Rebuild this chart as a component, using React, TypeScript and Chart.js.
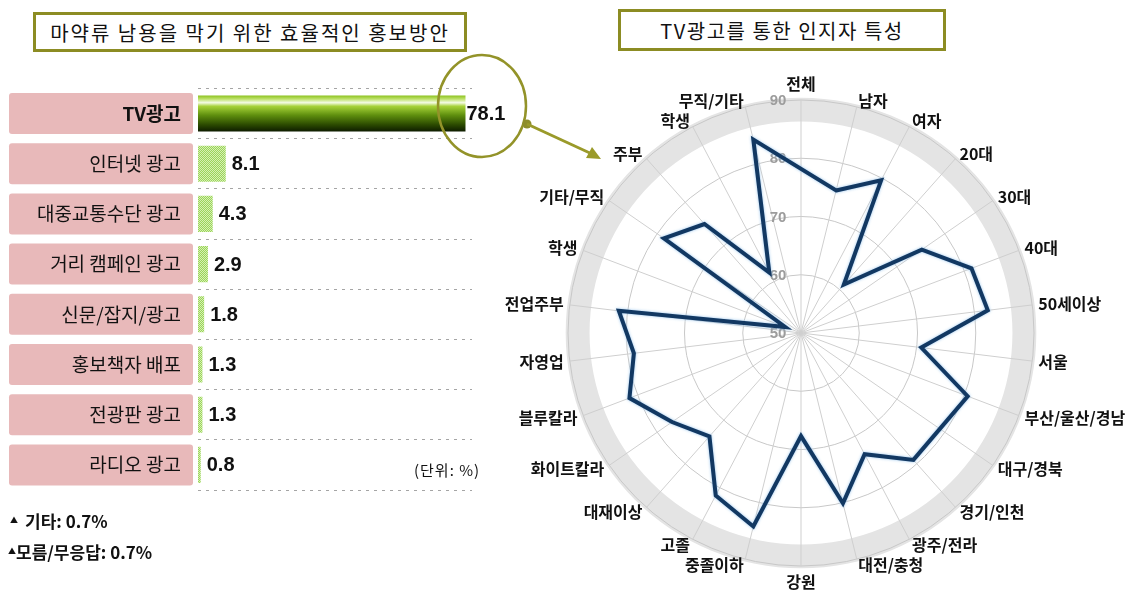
import React, { useEffect, useRef } from "react";
import { Chart, registerables } from "chart.js";

Chart.register(...registerables);

// ---------- data ----------
const adCategories = [
  "TV광고",
  "인터넷 광고",
  "대중교통수단 광고",
  "거리 캠페인 광고",
  "신문/잡지/광고",
  "홍보책자 배포",
  "전광판 광고",
  "라디오 광고",
];
const adValues = [78.1, 8.1, 4.3, 2.9, 1.8, 1.3, 1.3, 0.8];
const adAxisMax = 80;

const radarLabels = [
  "전체",
  "남자",
  "여자",
  "20대",
  "30대",
  "40대",
  "50세이상",
  "서울",
  "부산/울산/경남",
  "대구/경북",
  "경기/인천",
  "광주/전라",
  "대전/충청",
  "강원",
  "중졸이하",
  "고졸",
  "대재이상",
  "화이트칼라",
  "블루칼라",
  "자영업",
  "전업주부",
  "학생",
  "기타/무직",
  "주부",
  "학생",
  "무직/기타",
];
const radarValues: (number | null)[] = [
  null, 75.2, 79.6, 61.1, 75.2, 81.3, 82.3, 70.8, 80.6, null, 79.1, 73.5, 80.1,
  67.7, 84.2, 81.5, 73.7, 76.9, 81.5, 78.9, 81.5, 52.9, 78.6, 75.0, 61.7, 84.2,
];
const radarTicks = [50, 60, 70, 80, 90];
const radarMin = 50;
const radarMax = 90;
const bandRange = [86.3, 90.4];

const KR = '"Noto Sans CJK KR", "Noto Sans", sans-serif';
const NUM = '"Liberation Sans", Arial, sans-serif';

// ---------- bar chart ----------
function tvGradient(chart: any) {
  const ys = chart.scales && chart.scales.y;
  if (!ys) return "#5c8c0c";
  const y = ys.getPixelForValue(0);
  if (!Number.isFinite(y)) return "#5c8c0c";
  const half = 18;
  const g = chart.ctx.createLinearGradient(0, y - half, 0, y + half);
  g.addColorStop(0, "#8cc21e");
  g.addColorStop(0.1, "#bfe26c");
  g.addColorStop(0.2, "#f4fbe4");
  g.addColorStop(0.3, "#a6d238");
  g.addColorStop(0.55, "#5e8e0e");
  g.addColorStop(0.82, "#2a4800");
  g.addColorStop(1, "#0e1c00");
  return g;
}

function AdBarChart() {
  const ref = useRef<HTMLCanvasElement>(null);
  useEffect(() => {
    const canvas = ref.current!;
    const pc = document.createElement("canvas");
    pc.width = 2;
    pc.height = 2;
    const pctx = pc.getContext("2d")!;
    pctx.fillStyle = "#9bd45a";
    pctx.fillRect(0, 0, 2, 2);
    pctx.fillStyle = "#d6f1b4";
    pctx.fillRect(0, 0, 1, 1);
    pctx.fillRect(1, 1, 1, 1);
    const pattern = canvas.getContext("2d")!.createPattern(pc, "repeat");

    const boxPlugin = {
      id: "catBoxes",
      beforeDraw(chart: any) {
        const { ctx, chartArea } = chart;
        const ys = chart.scales.y;
        const right = chartArea.left - 5;
        const left = 9;
        ctx.save();
        ctx.fillStyle = "#e8b9ba";
        adCategories.forEach((_, i) => {
          const y = ys.getPixelForValue(i);
          ctx.beginPath();
          ctx.roundRect(left, y - 20.5, right - left, 41, 3);
          ctx.fill();
        });
        ctx.restore();
      },
    };

    const valuePlugin = {
      id: "valueLabels",
      afterDatasetsDraw(chart: any) {
        const { ctx } = chart;
        const meta = chart.getDatasetMeta(0);
        ctx.save();
        ctx.font = `bold 20px ${NUM}`;
        ctx.fillStyle = "#111";
        ctx.textAlign = "left";
        ctx.textBaseline = "middle";
        meta.data.forEach((bar: any, i: number) => {
          ctx.fillText(adValues[i].toFixed(1), bar.x + (i === 0 ? 1 : 6), bar.y + 1);
        });
        ctx.restore();
      },
    };

    const chart = new Chart(canvas, {
      type: "bar",
      data: {
        labels: adCategories,
        datasets: [
          {
            data: adValues,
            backgroundColor: (c: any) => (c.dataIndex === 0 ? tvGradient(c.chart) : pattern),
            borderWidth: 0,
            barPercentage: 0.72,
            categoryPercentage: 1,
          },
        ],
      },
      options: {
        indexAxis: "y",
        animation: false,
        responsive: false,
        maintainAspectRatio: false,
        layout: { padding: { left: 0, right: 88, top: 28, bottom: 30 } },
        plugins: { legend: { display: false }, tooltip: { enabled: false } },
        scales: {
          x: { display: false, min: 0, max: adAxisMax },
          y: {
            afterFit: (s: any) => {
              s.width = 198;
            },
            grid: { color: "#a5a5a5", drawTicks: false, offset: true, lineWidth: 1 },
            border: { display: false, dash: [3, 5] },
            ticks: {
              padding: 17,
              color: "#111",
              font: (c: any) => ({ family: KR, size: 19, weight: c.index === 0 ? "bold" : "normal" }),
            },
          },
        },
      } as any,
      plugins: [boxPlugin, valuePlugin],
    });
    return () => chart.destroy();
  }, []);
  return (
    <canvas
      ref={ref}
      width={560}
      height={460}
      style={{ position: "absolute", left: 0, top: 60, width: 560, height: 460 }}
    />
  );
}

// ---------- radar chart ----------
function RadarChart() {
  const ref = useRef<HTMLCanvasElement>(null);
  useEffect(() => {
    const canvas = ref.current!;

    const bandPlugin = {
      id: "band",
      beforeDraw(chart: any) {
        const s = chart.scales.r;
        const ctx = chart.ctx;
        const r1 = s.getDistanceFromCenterForValue(bandRange[0]);
        const r2 = s.getDistanceFromCenterForValue(bandRange[1]);
        ctx.save();
        ctx.fillStyle = "#e4e4e4";
        ctx.beginPath();
        ctx.arc(s.xCenter, s.yCenter, r2, 0, Math.PI * 2);
        ctx.arc(s.xCenter, s.yCenter, r1, 0, Math.PI * 2, true);
        ctx.fill("evenodd");
        ctx.restore();
      },
      beforeDatasetsDraw(chart: any) {
        const s = chart.scales.r;
        const ctx = chart.ctx;
        ctx.save();
        ctx.font = `bold 15px ${NUM}`;
        ctx.fillStyle = "#9c9c9c";
        ctx.textAlign = "center";
        ctx.textBaseline = "middle";
        radarTicks.forEach((t) => {
          const d = s.getDistanceFromCenterForValue(t);
          ctx.fillText(String(t), s.xCenter - 23, s.yCenter - d + 1);
        });
        ctx.restore();
      },
      beforeDatasetDraw(chart: any) {
        const ctx = chart.ctx;
        ctx.save();
        ctx.shadowColor = "rgba(140,190,235,0.9)";
        ctx.shadowBlur = 3;
      },
      afterDatasetDraw(chart: any) {
        chart.ctx.restore();
      },
      afterDraw(chart: any) {
        const s = chart.scales.r;
        const ctx = chart.ctx;
        ctx.save();
        ctx.font = `bold 16px ${KR}`;
        ctx.fillStyle = "#111";
        ctx.textBaseline = "middle";
        radarLabels.forEach((lab, i) => {
          const p = s.getPointPosition(i, s.drawingArea + 6);
          const a = s.getIndexAngle(i);
          const sn = Math.sin(a);
          const cs = Math.cos(a);
          const vertical = Math.abs(sn) < 0.05;
          ctx.textAlign = vertical ? "center" : sn > 0 ? "left" : "right";
          ctx.fillText(lab, p.x, vertical ? p.y - cs * 10 : p.y);
        });
        ctx.restore();
      },
    };

    const chart = new Chart(canvas, {
      type: "radar",
      data: {
        labels: radarLabels,
        datasets: [
          {
            data: radarValues,
            borderColor: "#123862",
            borderWidth: 4,
            pointRadius: 0,
            fill: false,
            spanGaps: true,
            tension: 0,
            borderJoinStyle: "miter",
          },
        ],
      },
      options: {
        animation: false,
        responsive: false,
        maintainAspectRatio: false,
        layout: { padding: { left: 88, right: 102, top: 40, bottom: 30 } },
        plugins: { legend: { display: false }, tooltip: { enabled: false } },
        scales: {
          r: {
            min: radarMin,
            max: radarMax,
            ticks: { display: false, stepSize: 10 },
            grid: { circular: true, color: "#c8c8c8", lineWidth: 1 },
            angleLines: { color: "#cfcfcf", lineWidth: 1 },
            pointLabels: { display: false },
          },
        },
      } as any,
      plugins: [bandPlugin],
    });
    return () => chart.destroy();
  }, []);
  return (
    <canvas
      ref={ref}
      width={656}
      height={536}
      style={{ position: "absolute", left: 480, top: 60, width: 656, height: 536 }}
    />
  );
}

// ---------- page ----------
const boxStyle: React.CSSProperties = {
  position: "absolute",
  boxSizing: "border-box",
  border: "3px solid #8c8c23",
  display: "flex",
  alignItems: "center",
  justifyContent: "center",
  color: "#111",
  background: "#fff",
  fontFamily: KR,
  whiteSpace: "nowrap",
};

export default function App() {
  return (
    <div
      style={{
        position: "fixed",
        left: 0,
        top: 0,
        width: 1136,
        height: 596,
        background: "#fff",
        overflow: "hidden",
        fontFamily: KR,
      }}
    >
      <div style={{ ...boxStyle, left: 33, top: 12, width: 434, height: 40, fontSize: 20, letterSpacing: 2 }}>
        마약류 남용을 막기 위한 효율적인 홍보방안
      </div>
      <div style={{ ...boxStyle, left: 618, top: 9, width: 328, height: 42, fontSize: 20, letterSpacing: 1.5 }}>
        TV광고를 통한 인지자 특성
      </div>
      <AdBarChart />
      <RadarChart />
      <svg
        width={1136}
        height={596}
        style={{ position: "absolute", left: 0, top: 0, pointerEvents: "none" }}
      >
        <ellipse cx={482} cy={106} rx={44} ry={51} fill="none" stroke="#939329" strokeWidth={2.5} />
        <circle cx={527} cy={124} r={4.5} fill="#8d8d2b" />
        <line x1={527} y1={124} x2={592} y2={154} stroke="#9a9a2a" strokeWidth={3} />
        <polygon points="601,159 586,158 592,147" fill="#9a9a2a" />
      </svg>
      <div
        style={{ position: "absolute", left: 414, top: 459, fontSize: 15, letterSpacing: 1, color: "#111", fontFamily: KR }}
      >
        (단위: %)
      </div>
      <div style={{ position: "absolute", left: 10, top: 508, fontSize: 17, fontWeight: "bold", color: "#111" }}>
        <span style={{ fontSize: 8, verticalAlign: "5px", marginRight: 7 }}>▲</span>기타: 0.7%
      </div>
      <div style={{ position: "absolute", left: 8, top: 539, fontSize: 17, fontWeight: "bold", color: "#111" }}>
        <span style={{ fontSize: 8, verticalAlign: "5px" }}>▲</span>모름/무응답: 0.7%
      </div>
    </div>
  );
}
